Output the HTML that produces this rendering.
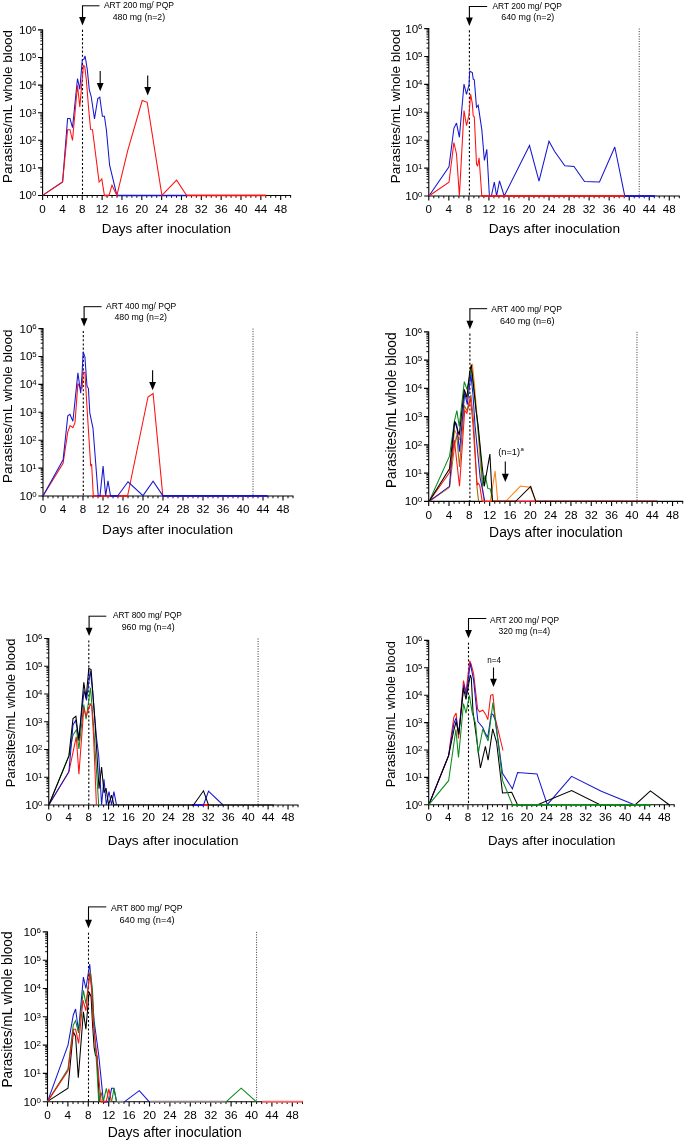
<!DOCTYPE html>
<html><head><meta charset="utf-8"><title>Parasitaemia charts</title><style>html,body{margin:0;padding:0;background:#fff}svg{display:block;will-change:transform;filter:blur(0.35px)}body{font-family:"Liberation Sans",sans-serif}</style></head><body>
<svg width="685" height="1142" viewBox="0 0 685 1142" font-family="'Liberation Sans', sans-serif" fill="#000">
<rect width="685" height="1142" fill="#fff"/>
<line x1="82.50" y1="29.80" x2="82.50" y2="195.50" stroke="#000" stroke-width="1.1" stroke-dasharray="2.1 2.06"/>
<g stroke="#000" stroke-width="1.10" fill="none">
<line x1="42.60" y1="29.40" x2="42.60" y2="196.00"/>
<line x1="42.10" y1="195.50" x2="291.10" y2="195.50"/>
<path d="M42.60 195.50v4.60M62.44 195.50v4.60M82.28 195.50v4.60M102.12 195.50v4.60M121.96 195.50v4.60M141.80 195.50v4.60M161.64 195.50v4.60M181.48 195.50v4.60M201.32 195.50v4.60M221.16 195.50v4.60M241.00 195.50v4.60M260.84 195.50v4.60M280.68 195.50v4.60M42.60 195.50h-4.60M42.60 167.90h-4.60M42.60 140.30h-4.60M42.60 112.70h-4.60M42.60 85.10h-4.60M42.60 57.50h-4.60M42.60 29.90h-4.60"/>
<path stroke-width="0.95" d="M47.56 195.50v2.30M52.52 195.50v2.30M57.48 195.50v2.30M67.40 195.50v2.30M72.36 195.50v2.30M77.32 195.50v2.30M87.24 195.50v2.30M92.20 195.50v2.30M97.16 195.50v2.30M107.08 195.50v2.30M112.04 195.50v2.30M117.00 195.50v2.30M126.92 195.50v2.30M131.88 195.50v2.30M136.84 195.50v2.30M146.76 195.50v2.30M151.72 195.50v2.30M156.68 195.50v2.30M166.60 195.50v2.30M171.56 195.50v2.30M176.52 195.50v2.30M186.44 195.50v2.30M191.40 195.50v2.30M196.36 195.50v2.30M206.28 195.50v2.30M211.24 195.50v2.30M216.20 195.50v2.30M226.12 195.50v2.30M231.08 195.50v2.30M236.04 195.50v2.30M245.96 195.50v2.30M250.92 195.50v2.30M255.88 195.50v2.30M265.80 195.50v2.30M270.76 195.50v2.30M275.72 195.50v2.30M285.64 195.50v2.30M290.60 195.50v2.30M42.60 187.19h-2.30M42.60 182.33h-2.30M42.60 178.88h-2.30M42.60 176.21h-2.30M42.60 174.02h-2.30M42.60 172.18h-2.30M42.60 170.57h-2.30M42.60 169.16h-2.30M42.60 159.59h-2.30M42.60 154.73h-2.30M42.60 151.28h-2.30M42.60 148.61h-2.30M42.60 146.42h-2.30M42.60 144.58h-2.30M42.60 142.97h-2.30M42.60 141.56h-2.30M42.60 131.99h-2.30M42.60 127.13h-2.30M42.60 123.68h-2.30M42.60 121.01h-2.30M42.60 118.82h-2.30M42.60 116.98h-2.30M42.60 115.37h-2.30M42.60 113.96h-2.30M42.60 104.39h-2.30M42.60 99.53h-2.30M42.60 96.08h-2.30M42.60 93.41h-2.30M42.60 91.22h-2.30M42.60 89.38h-2.30M42.60 87.77h-2.30M42.60 86.36h-2.30M42.60 76.79h-2.30M42.60 71.93h-2.30M42.60 68.48h-2.30M42.60 65.81h-2.30M42.60 63.62h-2.30M42.60 61.78h-2.30M42.60 60.17h-2.30M42.60 58.76h-2.30M42.60 49.19h-2.30M42.60 44.33h-2.30M42.60 40.88h-2.30M42.60 38.21h-2.30M42.60 36.02h-2.30M42.60 34.18h-2.30M42.60 32.57h-2.30M42.60 31.16h-2.30"/>
</g>
<text x="42.60" y="212.80" font-size="11.6" text-anchor="middle">0</text>
<text x="62.44" y="212.80" font-size="11.6" text-anchor="middle">4</text>
<text x="82.28" y="212.80" font-size="11.6" text-anchor="middle">8</text>
<text x="102.12" y="212.80" font-size="11.6" text-anchor="middle">12</text>
<text x="121.96" y="212.80" font-size="11.6" text-anchor="middle">16</text>
<text x="141.80" y="212.80" font-size="11.6" text-anchor="middle">20</text>
<text x="161.64" y="212.80" font-size="11.6" text-anchor="middle">24</text>
<text x="181.48" y="212.80" font-size="11.6" text-anchor="middle">28</text>
<text x="201.32" y="212.80" font-size="11.6" text-anchor="middle">32</text>
<text x="221.16" y="212.80" font-size="11.6" text-anchor="middle">36</text>
<text x="241.00" y="212.80" font-size="11.6" text-anchor="middle">40</text>
<text x="260.84" y="212.80" font-size="11.6" text-anchor="middle">44</text>
<text x="280.68" y="212.80" font-size="11.6" text-anchor="middle">48</text>
<text x="32.00" y="199.40" font-size="11.6" text-anchor="end">10</text>
<text x="31.90" y="196.30" font-size="7.8" text-anchor="start">0</text>
<text x="32.00" y="171.80" font-size="11.6" text-anchor="end">10</text>
<text x="31.90" y="168.70" font-size="7.8" text-anchor="start">1</text>
<text x="32.00" y="144.20" font-size="11.6" text-anchor="end">10</text>
<text x="31.90" y="141.10" font-size="7.8" text-anchor="start">2</text>
<text x="32.00" y="116.60" font-size="11.6" text-anchor="end">10</text>
<text x="31.90" y="113.50" font-size="7.8" text-anchor="start">3</text>
<text x="32.00" y="89.00" font-size="11.6" text-anchor="end">10</text>
<text x="31.90" y="85.90" font-size="7.8" text-anchor="start">4</text>
<text x="32.00" y="61.40" font-size="11.6" text-anchor="end">10</text>
<text x="31.90" y="58.30" font-size="7.8" text-anchor="start">5</text>
<text x="32.00" y="33.80" font-size="11.6" text-anchor="end">10</text>
<text x="31.90" y="30.70" font-size="7.8" text-anchor="start">6</text>
<text x="101.70" y="233.20" font-size="13.5" text-anchor="start" textLength="129.3" lengthAdjust="spacingAndGlyphs">Days after inoculation</text>
<text transform="translate(11.80,182.90) rotate(-90)" font-size="13.5" textLength="152.9" lengthAdjust="spacingAndGlyphs">Parasites/mL whole blood</text>
<polyline points="82.00,5.80 99.50,5.80" stroke="#000" stroke-width="1" fill="none"/>
<line x1="82.50" y1="5.80" x2="82.50" y2="18.10" stroke="#000" stroke-width="1.1"/>
<polygon points="79.10,17.10 85.90,17.10 82.50,25.40" fill="#000"/>
<text x="103.90" y="8.40" font-size="8.8" text-anchor="start" textLength="70.1" lengthAdjust="spacingAndGlyphs">ART 200 mg/ PQP</text>
<text x="112.70" y="19.80" font-size="8.8" text-anchor="start" textLength="52.5" lengthAdjust="spacingAndGlyphs">480 mg (n=2)</text>
<line x1="100.20" y1="71.10" x2="100.20" y2="83.90" stroke="#000" stroke-width="1.1"/>
<polygon points="96.80,82.90 103.60,82.90 100.20,91.20" fill="#000"/>
<line x1="147.70" y1="75.50" x2="147.70" y2="88.10" stroke="#000" stroke-width="1.1"/>
<polygon points="144.30,87.10 151.10,87.10 147.70,95.40" fill="#000"/>
<polyline points="42.6,195.4 62.6,181.9 67.6,118.5 70.0,118.5 72.5,127.7 77.5,78.5 79.8,89.3 82.3,59.7 84.0,59.0 85.1,56.0 87.3,69.6 89.3,90.0 91.2,96.5 94.5,118.8 97.8,98.5 99.8,97.2 102.4,116.2 104.4,116.2 106.4,130.0 109.6,165.2 116.9,195.4 187.5,195.4" fill="none" stroke="#1616d2" stroke-width="1.05" stroke-linejoin="miter" stroke-miterlimit="3"/>
<line x1="116.9" y1="195.50" x2="187.5" y2="195.50" stroke="#1616d2" stroke-width="1.7"/>
<polyline points="42.6,195.4 62.6,181.9 67.6,129.7 70.0,129.7 72.5,140.5 77.5,85.3 79.8,107.0 83.4,65.6 84.7,66.3 86.3,79.4 88.6,108.3 90.6,129.4 92.5,129.7 99.1,182.0 101.8,179.0 104.4,195.4 109.0,195.4 112.0,185.2 116.9,195.4 127.7,150.7 142.2,100.5 147.2,102.3 161.9,195.3 176.6,180.2 186.5,195.3 266.0,195.3" fill="none" stroke="#ff1010" stroke-width="1.05" stroke-linejoin="miter" stroke-miterlimit="3"/>
<line x1="104.4" y1="195.50" x2="109.0" y2="195.50" stroke="#ff1010" stroke-width="1.7"/>
<line x1="186.5" y1="195.50" x2="266.0" y2="195.50" stroke="#ff1010" stroke-width="1.7"/>
<line x1="639.22" y1="28.60" x2="639.22" y2="196.00" stroke="#333" stroke-width="1" stroke-dasharray="1 1.5"/>
<line x1="469.40" y1="30.30" x2="469.40" y2="196.00" stroke="#000" stroke-width="1.1" stroke-dasharray="2.1 2.06"/>
<g stroke="#000" stroke-width="1.10" fill="none">
<line x1="428.80" y1="28.10" x2="428.80" y2="196.50"/>
<line x1="428.30" y1="196.00" x2="679.80" y2="196.00"/>
<path d="M428.80 196.00v4.60M448.84 196.00v4.60M468.88 196.00v4.60M488.92 196.00v4.60M508.96 196.00v4.60M529.00 196.00v4.60M549.04 196.00v4.60M569.08 196.00v4.60M589.12 196.00v4.60M609.16 196.00v4.60M629.20 196.00v4.60M649.24 196.00v4.60M669.28 196.00v4.60M428.80 196.00h-4.60M428.80 168.10h-4.60M428.80 140.20h-4.60M428.80 112.30h-4.60M428.80 84.40h-4.60M428.80 56.50h-4.60M428.80 28.60h-4.60"/>
<path stroke-width="0.95" d="M433.81 196.00v2.30M438.82 196.00v2.30M443.83 196.00v2.30M453.85 196.00v2.30M458.86 196.00v2.30M463.87 196.00v2.30M473.89 196.00v2.30M478.90 196.00v2.30M483.91 196.00v2.30M493.93 196.00v2.30M498.94 196.00v2.30M503.95 196.00v2.30M513.97 196.00v2.30M518.98 196.00v2.30M523.99 196.00v2.30M534.01 196.00v2.30M539.02 196.00v2.30M544.03 196.00v2.30M554.05 196.00v2.30M559.06 196.00v2.30M564.07 196.00v2.30M574.09 196.00v2.30M579.10 196.00v2.30M584.11 196.00v2.30M594.13 196.00v2.30M599.14 196.00v2.30M604.15 196.00v2.30M614.17 196.00v2.30M619.18 196.00v2.30M624.19 196.00v2.30M634.21 196.00v2.30M639.22 196.00v2.30M644.23 196.00v2.30M654.25 196.00v2.30M659.26 196.00v2.30M664.27 196.00v2.30M674.29 196.00v2.30M679.30 196.00v2.30M428.80 187.60h-2.30M428.80 182.69h-2.30M428.80 179.20h-2.30M428.80 176.50h-2.30M428.80 174.29h-2.30M428.80 172.42h-2.30M428.80 170.80h-2.30M428.80 169.38h-2.30M428.80 159.70h-2.30M428.80 154.79h-2.30M428.80 151.30h-2.30M428.80 148.60h-2.30M428.80 146.39h-2.30M428.80 144.52h-2.30M428.80 142.90h-2.30M428.80 141.48h-2.30M428.80 131.80h-2.30M428.80 126.89h-2.30M428.80 123.40h-2.30M428.80 120.70h-2.30M428.80 118.49h-2.30M428.80 116.62h-2.30M428.80 115.00h-2.30M428.80 113.58h-2.30M428.80 103.90h-2.30M428.80 98.99h-2.30M428.80 95.50h-2.30M428.80 92.80h-2.30M428.80 90.59h-2.30M428.80 88.72h-2.30M428.80 87.10h-2.30M428.80 85.68h-2.30M428.80 76.00h-2.30M428.80 71.09h-2.30M428.80 67.60h-2.30M428.80 64.90h-2.30M428.80 62.69h-2.30M428.80 60.82h-2.30M428.80 59.20h-2.30M428.80 57.78h-2.30M428.80 48.10h-2.30M428.80 43.19h-2.30M428.80 39.70h-2.30M428.80 37.00h-2.30M428.80 34.79h-2.30M428.80 32.92h-2.30M428.80 31.30h-2.30M428.80 29.88h-2.30"/>
</g>
<text x="428.80" y="213.30" font-size="11.6" text-anchor="middle">0</text>
<text x="448.84" y="213.30" font-size="11.6" text-anchor="middle">4</text>
<text x="468.88" y="213.30" font-size="11.6" text-anchor="middle">8</text>
<text x="488.92" y="213.30" font-size="11.6" text-anchor="middle">12</text>
<text x="508.96" y="213.30" font-size="11.6" text-anchor="middle">16</text>
<text x="529.00" y="213.30" font-size="11.6" text-anchor="middle">20</text>
<text x="549.04" y="213.30" font-size="11.6" text-anchor="middle">24</text>
<text x="569.08" y="213.30" font-size="11.6" text-anchor="middle">28</text>
<text x="589.12" y="213.30" font-size="11.6" text-anchor="middle">32</text>
<text x="609.16" y="213.30" font-size="11.6" text-anchor="middle">36</text>
<text x="629.20" y="213.30" font-size="11.6" text-anchor="middle">40</text>
<text x="649.24" y="213.30" font-size="11.6" text-anchor="middle">44</text>
<text x="669.28" y="213.30" font-size="11.6" text-anchor="middle">48</text>
<text x="418.20" y="199.90" font-size="11.6" text-anchor="end">10</text>
<text x="418.10" y="196.80" font-size="7.8" text-anchor="start">0</text>
<text x="418.20" y="172.00" font-size="11.6" text-anchor="end">10</text>
<text x="418.10" y="168.90" font-size="7.8" text-anchor="start">1</text>
<text x="418.20" y="144.10" font-size="11.6" text-anchor="end">10</text>
<text x="418.10" y="141.00" font-size="7.8" text-anchor="start">2</text>
<text x="418.20" y="116.20" font-size="11.6" text-anchor="end">10</text>
<text x="418.10" y="113.10" font-size="7.8" text-anchor="start">3</text>
<text x="418.20" y="88.30" font-size="11.6" text-anchor="end">10</text>
<text x="418.10" y="85.20" font-size="7.8" text-anchor="start">4</text>
<text x="418.20" y="60.40" font-size="11.6" text-anchor="end">10</text>
<text x="418.10" y="57.30" font-size="7.8" text-anchor="start">5</text>
<text x="418.20" y="32.50" font-size="11.6" text-anchor="end">10</text>
<text x="418.10" y="29.40" font-size="7.8" text-anchor="start">6</text>
<text x="488.70" y="233.20" font-size="13.5" text-anchor="start" textLength="131.3" lengthAdjust="spacingAndGlyphs">Days after inoculation</text>
<text transform="translate(399.50,183.20) rotate(-90)" font-size="13.5" textLength="154.0" lengthAdjust="spacingAndGlyphs">Parasites/mL whole blood</text>
<polyline points="468.90,6.50 487.20,6.50" stroke="#000" stroke-width="1" fill="none"/>
<line x1="469.40" y1="6.50" x2="469.40" y2="18.60" stroke="#000" stroke-width="1.1"/>
<polygon points="466.00,17.60 472.80,17.60 469.40,25.90" fill="#000"/>
<text x="492.40" y="8.80" font-size="8.8" text-anchor="start" textLength="69.6" lengthAdjust="spacingAndGlyphs">ART 200 mg/ PQP</text>
<text x="501.20" y="20.10" font-size="8.8" text-anchor="start" textLength="53.1" lengthAdjust="spacingAndGlyphs">640 mg (n=2)</text>
<polyline points="428.9,196.0 449.0,166.7 453.9,128.3 456.5,123.1 459.4,137.3 464.0,84.0 466.5,94.4 469.0,85.0 469.7,71.2 472.3,72.5 473.2,79.1 474.3,79.7 476.5,107.3 478.2,105.3 481.8,129.6 484.4,160.5 486.8,149.4 489.4,196.0 491.4,196.0 494.3,182.2 496.6,196.0 499.5,180.9 504.2,196.0 529.5,145.5 539.0,181.2 549.0,141.2 554.5,151.2 564.8,165.8 574.0,166.5 584.5,181.5 599.5,182.0 614.8,147.0 624.8,196.2 655.0,196.2" fill="none" stroke="#1616d2" stroke-width="1.05" stroke-linejoin="miter" stroke-miterlimit="3"/>
<line x1="624.8" y1="196.00" x2="655.0" y2="196.00" stroke="#1616d2" stroke-width="1.7"/>
<polyline points="428.9,196.0 449.0,182.2 453.9,142.5 456.5,154.0 459.4,196.0 464.0,110.6 466.5,125.7 469.0,115.2 470.6,94.2 472.3,103.4 473.2,115.8 474.3,116.8 476.5,163.8 477.6,166.2 479.1,157.9 481.8,196.0 625.0,196.0" fill="none" stroke="#ff1010" stroke-width="1.05" stroke-linejoin="miter" stroke-miterlimit="3"/>
<line x1="481.8" y1="196.00" x2="625.0" y2="196.00" stroke="#ff1010" stroke-width="1.7"/>
<line x1="253.00" y1="328.60" x2="253.00" y2="496.00" stroke="#333" stroke-width="1" stroke-dasharray="1 1.5"/>
<line x1="83.30" y1="330.90" x2="83.30" y2="496.00" stroke="#000" stroke-width="1.1" stroke-dasharray="2.1 2.06"/>
<g stroke="#000" stroke-width="1.10" fill="none">
<line x1="43.00" y1="328.10" x2="43.00" y2="496.50"/>
<line x1="42.50" y1="496.00" x2="293.50" y2="496.00"/>
<path d="M43.00 496.00v4.60M63.00 496.00v4.60M83.00 496.00v4.60M103.00 496.00v4.60M123.00 496.00v4.60M143.00 496.00v4.60M163.00 496.00v4.60M183.00 496.00v4.60M203.00 496.00v4.60M223.00 496.00v4.60M243.00 496.00v4.60M263.00 496.00v4.60M283.00 496.00v4.60M43.00 496.00h-4.60M43.00 468.10h-4.60M43.00 440.20h-4.60M43.00 412.30h-4.60M43.00 384.40h-4.60M43.00 356.50h-4.60M43.00 328.60h-4.60"/>
<path stroke-width="0.95" d="M48.00 496.00v2.30M53.00 496.00v2.30M58.00 496.00v2.30M68.00 496.00v2.30M73.00 496.00v2.30M78.00 496.00v2.30M88.00 496.00v2.30M93.00 496.00v2.30M98.00 496.00v2.30M108.00 496.00v2.30M113.00 496.00v2.30M118.00 496.00v2.30M128.00 496.00v2.30M133.00 496.00v2.30M138.00 496.00v2.30M148.00 496.00v2.30M153.00 496.00v2.30M158.00 496.00v2.30M168.00 496.00v2.30M173.00 496.00v2.30M178.00 496.00v2.30M188.00 496.00v2.30M193.00 496.00v2.30M198.00 496.00v2.30M208.00 496.00v2.30M213.00 496.00v2.30M218.00 496.00v2.30M228.00 496.00v2.30M233.00 496.00v2.30M238.00 496.00v2.30M248.00 496.00v2.30M253.00 496.00v2.30M258.00 496.00v2.30M268.00 496.00v2.30M273.00 496.00v2.30M278.00 496.00v2.30M288.00 496.00v2.30M293.00 496.00v2.30M43.00 487.60h-2.30M43.00 482.69h-2.30M43.00 479.20h-2.30M43.00 476.50h-2.30M43.00 474.29h-2.30M43.00 472.42h-2.30M43.00 470.80h-2.30M43.00 469.38h-2.30M43.00 459.70h-2.30M43.00 454.79h-2.30M43.00 451.30h-2.30M43.00 448.60h-2.30M43.00 446.39h-2.30M43.00 444.52h-2.30M43.00 442.90h-2.30M43.00 441.48h-2.30M43.00 431.80h-2.30M43.00 426.89h-2.30M43.00 423.40h-2.30M43.00 420.70h-2.30M43.00 418.49h-2.30M43.00 416.62h-2.30M43.00 415.00h-2.30M43.00 413.58h-2.30M43.00 403.90h-2.30M43.00 398.99h-2.30M43.00 395.50h-2.30M43.00 392.80h-2.30M43.00 390.59h-2.30M43.00 388.72h-2.30M43.00 387.10h-2.30M43.00 385.68h-2.30M43.00 376.00h-2.30M43.00 371.09h-2.30M43.00 367.60h-2.30M43.00 364.90h-2.30M43.00 362.69h-2.30M43.00 360.82h-2.30M43.00 359.20h-2.30M43.00 357.78h-2.30M43.00 348.10h-2.30M43.00 343.19h-2.30M43.00 339.70h-2.30M43.00 337.00h-2.30M43.00 334.79h-2.30M43.00 332.92h-2.30M43.00 331.30h-2.30M43.00 329.88h-2.30"/>
</g>
<text x="43.00" y="513.40" font-size="11.6" text-anchor="middle">0</text>
<text x="63.00" y="513.40" font-size="11.6" text-anchor="middle">4</text>
<text x="83.00" y="513.40" font-size="11.6" text-anchor="middle">8</text>
<text x="103.00" y="513.40" font-size="11.6" text-anchor="middle">12</text>
<text x="123.00" y="513.40" font-size="11.6" text-anchor="middle">16</text>
<text x="143.00" y="513.40" font-size="11.6" text-anchor="middle">20</text>
<text x="163.00" y="513.40" font-size="11.6" text-anchor="middle">24</text>
<text x="183.00" y="513.40" font-size="11.6" text-anchor="middle">28</text>
<text x="203.00" y="513.40" font-size="11.6" text-anchor="middle">32</text>
<text x="223.00" y="513.40" font-size="11.6" text-anchor="middle">36</text>
<text x="243.00" y="513.40" font-size="11.6" text-anchor="middle">40</text>
<text x="263.00" y="513.40" font-size="11.6" text-anchor="middle">44</text>
<text x="283.00" y="513.40" font-size="11.6" text-anchor="middle">48</text>
<text x="32.40" y="499.90" font-size="11.6" text-anchor="end">10</text>
<text x="32.30" y="496.80" font-size="7.8" text-anchor="start">0</text>
<text x="32.40" y="472.00" font-size="11.6" text-anchor="end">10</text>
<text x="32.30" y="468.90" font-size="7.8" text-anchor="start">1</text>
<text x="32.40" y="444.10" font-size="11.6" text-anchor="end">10</text>
<text x="32.30" y="441.00" font-size="7.8" text-anchor="start">2</text>
<text x="32.40" y="416.20" font-size="11.6" text-anchor="end">10</text>
<text x="32.30" y="413.10" font-size="7.8" text-anchor="start">3</text>
<text x="32.40" y="388.30" font-size="11.6" text-anchor="end">10</text>
<text x="32.30" y="385.20" font-size="7.8" text-anchor="start">4</text>
<text x="32.40" y="360.40" font-size="11.6" text-anchor="end">10</text>
<text x="32.30" y="357.30" font-size="7.8" text-anchor="start">5</text>
<text x="32.40" y="332.50" font-size="11.6" text-anchor="end">10</text>
<text x="32.30" y="329.40" font-size="7.8" text-anchor="start">6</text>
<text x="102.10" y="534.00" font-size="13.5" text-anchor="start" textLength="130.9" lengthAdjust="spacingAndGlyphs">Days after inoculation</text>
<text transform="translate(12.00,483.00) rotate(-90)" font-size="13.5" textLength="153.4" lengthAdjust="spacingAndGlyphs">Parasites/mL whole blood</text>
<polyline points="83.60,306.70 101.60,306.70" stroke="#000" stroke-width="1" fill="none"/>
<line x1="84.10" y1="306.70" x2="84.10" y2="319.20" stroke="#000" stroke-width="1.1"/>
<polygon points="80.70,318.20 87.50,318.20 84.10,326.50" fill="#000"/>
<text x="106.00" y="309.00" font-size="8.8" text-anchor="start" textLength="70.3" lengthAdjust="spacingAndGlyphs">ART 400 mg/ PQP</text>
<text x="114.40" y="320.40" font-size="8.8" text-anchor="start" textLength="52.6" lengthAdjust="spacingAndGlyphs">480 mg (n=2)</text>
<line x1="152.60" y1="370.20" x2="152.60" y2="382.90" stroke="#000" stroke-width="1.1"/>
<polygon points="149.20,381.90 156.00,381.90 152.60,390.20" fill="#000"/>
<polyline points="43.1,495.8 63.1,463.3 67.8,431.8 70.1,425.5 72.9,427.6 75.0,422.7 77.9,383.4 80.2,388.3 82.1,388.3 83.2,372.2 84.9,372.5 87.0,407.3 90.7,466.1 91.6,464.0 93.3,495.8 127.6,495.8 148.0,397.0 153.1,393.5 162.8,495.6 267.0,495.6" fill="none" stroke="#ff1010" stroke-width="1.05" stroke-linejoin="miter" stroke-miterlimit="3"/>
<line x1="93.3" y1="496.00" x2="127.6" y2="496.00" stroke="#ff1010" stroke-width="1.7"/>
<line x1="162.8" y1="496.00" x2="267.0" y2="496.00" stroke="#ff1010" stroke-width="1.7"/>
<polyline points="43.1,495.8 63.1,459.8 67.8,415.7 69.9,414.3 72.9,421.3 77.9,372.9 80.7,393.2 82.1,372.9 83.2,351.9 84.9,356.8 87.0,386.2 88.4,388.3 89.8,412.9 93.0,428.3 98.2,495.8 100.0,495.8 103.1,466.1 105.6,495.8 108.0,480.8 110.5,495.8 117.8,495.8 128.0,481.8 143.0,495.6 153.1,481.2 162.8,495.6 267.5,495.6" fill="none" stroke="#1616d2" stroke-width="1.05" stroke-linejoin="miter" stroke-miterlimit="3"/>
<line x1="110.5" y1="496.00" x2="117.8" y2="496.00" stroke="#1616d2" stroke-width="1.7"/>
<line x1="162.8" y1="496.00" x2="267.5" y2="496.00" stroke="#1616d2" stroke-width="1.7"/>
<line x1="636.98" y1="331.90" x2="636.98" y2="501.40" stroke="#333" stroke-width="1" stroke-dasharray="1 1.5"/>
<line x1="469.90" y1="333.60" x2="469.90" y2="501.40" stroke="#000" stroke-width="1.1" stroke-dasharray="2.1 2.06"/>
<g stroke="#000" stroke-width="1.12" fill="none">
<line x1="428.70" y1="331.40" x2="428.70" y2="501.90"/>
<line x1="428.20" y1="501.40" x2="683.20" y2="501.40"/>
<path d="M428.70 501.40v4.69M449.02 501.40v4.69M469.34 501.40v4.69M489.66 501.40v4.69M509.98 501.40v4.69M530.30 501.40v4.69M550.62 501.40v4.69M570.94 501.40v4.69M591.26 501.40v4.69M611.58 501.40v4.69M631.90 501.40v4.69M652.22 501.40v4.69M672.54 501.40v4.69M428.70 501.40h-4.69M428.70 473.15h-4.69M428.70 444.90h-4.69M428.70 416.65h-4.69M428.70 388.40h-4.69M428.70 360.15h-4.69M428.70 331.90h-4.69"/>
<path stroke-width="0.97" d="M433.78 501.40v2.35M438.86 501.40v2.35M443.94 501.40v2.35M454.10 501.40v2.35M459.18 501.40v2.35M464.26 501.40v2.35M474.42 501.40v2.35M479.50 501.40v2.35M484.58 501.40v2.35M494.74 501.40v2.35M499.82 501.40v2.35M504.90 501.40v2.35M515.06 501.40v2.35M520.14 501.40v2.35M525.22 501.40v2.35M535.38 501.40v2.35M540.46 501.40v2.35M545.54 501.40v2.35M555.70 501.40v2.35M560.78 501.40v2.35M565.86 501.40v2.35M576.02 501.40v2.35M581.10 501.40v2.35M586.18 501.40v2.35M596.34 501.40v2.35M601.42 501.40v2.35M606.50 501.40v2.35M616.66 501.40v2.35M621.74 501.40v2.35M626.82 501.40v2.35M636.98 501.40v2.35M642.06 501.40v2.35M647.14 501.40v2.35M657.30 501.40v2.35M662.38 501.40v2.35M667.46 501.40v2.35M677.62 501.40v2.35M682.70 501.40v2.35M428.70 492.90h-2.35M428.70 487.92h-2.35M428.70 484.39h-2.35M428.70 481.65h-2.35M428.70 479.42h-2.35M428.70 477.53h-2.35M428.70 475.89h-2.35M428.70 474.44h-2.35M428.70 464.65h-2.35M428.70 459.67h-2.35M428.70 456.14h-2.35M428.70 453.40h-2.35M428.70 451.17h-2.35M428.70 449.28h-2.35M428.70 447.64h-2.35M428.70 446.19h-2.35M428.70 436.40h-2.35M428.70 431.42h-2.35M428.70 427.89h-2.35M428.70 425.15h-2.35M428.70 422.92h-2.35M428.70 421.03h-2.35M428.70 419.39h-2.35M428.70 417.94h-2.35M428.70 408.15h-2.35M428.70 403.17h-2.35M428.70 399.64h-2.35M428.70 396.90h-2.35M428.70 394.67h-2.35M428.70 392.78h-2.35M428.70 391.14h-2.35M428.70 389.69h-2.35M428.70 379.90h-2.35M428.70 374.92h-2.35M428.70 371.39h-2.35M428.70 368.65h-2.35M428.70 366.42h-2.35M428.70 364.53h-2.35M428.70 362.89h-2.35M428.70 361.44h-2.35M428.70 351.65h-2.35M428.70 346.67h-2.35M428.70 343.14h-2.35M428.70 340.40h-2.35M428.70 338.17h-2.35M428.70 336.28h-2.35M428.70 334.64h-2.35M428.70 333.19h-2.35"/>
</g>
<text x="428.70" y="518.80" font-size="11.8" text-anchor="middle">0</text>
<text x="449.02" y="518.80" font-size="11.8" text-anchor="middle">4</text>
<text x="469.34" y="518.80" font-size="11.8" text-anchor="middle">8</text>
<text x="489.66" y="518.80" font-size="11.8" text-anchor="middle">12</text>
<text x="509.98" y="518.80" font-size="11.8" text-anchor="middle">16</text>
<text x="530.30" y="518.80" font-size="11.8" text-anchor="middle">20</text>
<text x="550.62" y="518.80" font-size="11.8" text-anchor="middle">24</text>
<text x="570.94" y="518.80" font-size="11.8" text-anchor="middle">28</text>
<text x="591.26" y="518.80" font-size="11.8" text-anchor="middle">32</text>
<text x="611.58" y="518.80" font-size="11.8" text-anchor="middle">36</text>
<text x="631.90" y="518.80" font-size="11.8" text-anchor="middle">40</text>
<text x="652.22" y="518.80" font-size="11.8" text-anchor="middle">44</text>
<text x="672.54" y="518.80" font-size="11.8" text-anchor="middle">48</text>
<text x="417.89" y="505.38" font-size="11.8" text-anchor="end">10</text>
<text x="417.79" y="502.22" font-size="8.0" text-anchor="start">0</text>
<text x="417.89" y="477.13" font-size="11.8" text-anchor="end">10</text>
<text x="417.79" y="473.97" font-size="8.0" text-anchor="start">1</text>
<text x="417.89" y="448.88" font-size="11.8" text-anchor="end">10</text>
<text x="417.79" y="445.72" font-size="8.0" text-anchor="start">2</text>
<text x="417.89" y="420.63" font-size="11.8" text-anchor="end">10</text>
<text x="417.79" y="417.47" font-size="8.0" text-anchor="start">3</text>
<text x="417.89" y="392.38" font-size="11.8" text-anchor="end">10</text>
<text x="417.79" y="389.22" font-size="8.0" text-anchor="start">4</text>
<text x="417.89" y="364.13" font-size="11.8" text-anchor="end">10</text>
<text x="417.79" y="360.97" font-size="8.0" text-anchor="start">5</text>
<text x="417.89" y="335.88" font-size="11.8" text-anchor="end">10</text>
<text x="417.79" y="332.72" font-size="8.0" text-anchor="start">6</text>
<text x="489.10" y="537.00" font-size="13.8" text-anchor="start" textLength="133.6" lengthAdjust="spacingAndGlyphs">Days after inoculation</text>
<text transform="translate(396.30,488.00) rotate(-90)" font-size="13.8" textLength="155.5" lengthAdjust="spacingAndGlyphs">Parasites/mL whole blood</text>
<polyline points="469.40,308.70 487.20,308.70" stroke="#000" stroke-width="1" fill="none"/>
<line x1="469.90" y1="308.70" x2="469.90" y2="321.73" stroke="#000" stroke-width="1.1"/>
<polygon points="466.43,320.73 473.37,320.73 469.90,329.20" fill="#000"/>
<text x="491.20" y="311.60" font-size="9.0" text-anchor="start" textLength="70.8" lengthAdjust="spacingAndGlyphs">ART 400 mg/ PQP</text>
<text x="499.90" y="323.90" font-size="9.0" text-anchor="start" textLength="54.7" lengthAdjust="spacingAndGlyphs">640 mg (n=6)</text>
<line x1="505.30" y1="461.60" x2="505.30" y2="474.63" stroke="#000" stroke-width="1.1"/>
<polygon points="501.83,473.63 508.77,473.63 505.30,482.10" fill="#000"/>
<text x="498.30" y="454.90" font-size="9" text-anchor="start" textLength="21.7" lengthAdjust="spacingAndGlyphs">(n=1)</text>
<text x="520.50" y="450.50" font-size="6" text-anchor="start">a</text>
<polyline points="429.2,501.3 449.5,487.3 454.6,445.0 456.7,435.2 459.5,466.9 464.3,405.4 466.9,410.5 470.9,394.8 473.5,420.0 477.1,488.4 478.6,501.3" fill="none" stroke="#9a6a10" stroke-width="1.05" stroke-linejoin="miter" stroke-miterlimit="3"/>
<polyline points="429.2,501.3 449.5,487.3 454.6,430.0 459.5,440.0 464.5,392.0 467.0,400.0 470.0,372.0 472.4,363.8 474.5,385.0 477.0,415.0 479.7,455.7 483.8,501.3 490.3,501.3 495.1,471.0 497.7,501.3 505.7,501.3 520.5,486.1 530.2,487.3 535.8,501.3" fill="none" stroke="#ff8010" stroke-width="1.05" stroke-linejoin="miter" stroke-miterlimit="3"/>
<polyline points="429.2,501.3 449.5,456.2 454.6,420.0 456.9,410.7 459.2,426.5 464.3,381.6 466.9,389.3 471.3,369.6 475.1,400.0 477.6,425.0 480.2,450.0 482.7,486.3 485.2,475.1 487.8,488.4 490.3,488.9 492.9,501.3" fill="none" stroke="#0a8a1a" stroke-width="1.05" stroke-linejoin="miter" stroke-miterlimit="3"/>
<polyline points="429.2,501.3 449.5,486.3 454.6,421.4 456.7,424.5 459.5,451.6 464.7,393.0 467.3,404.6 470.9,374.3 473.0,395.0 475.0,425.0 480.2,478.1 484.8,501.3" fill="none" stroke="#1616d2" stroke-width="1.05" stroke-linejoin="miter" stroke-miterlimit="3"/>
<polyline points="429.2,501.3 449.5,472.5 454.4,440.3 459.5,486.3 464.7,410.5 466.9,413.4 470.5,398.1 473.0,425.0 477.1,485.3 478.1,483.2 479.7,485.3 482.2,501.3 657.5,501.3" fill="none" stroke="#ff1010" stroke-width="1.05" stroke-linejoin="miter" stroke-miterlimit="3"/>
<polyline points="429.2,501.3 449.5,468.9 454.6,421.4 457.0,428.0 459.2,435.2 464.3,389.3 466.9,397.3 469.7,372.0 471.3,364.5 473.5,385.0 476.0,410.0 478.1,425.0 481.0,455.0 484.3,486.3 489.9,454.1 492.4,501.3 515.7,501.3 530.7,486.5 535.8,501.3 657.5,501.3" fill="none" stroke="#000000" stroke-width="1.05" stroke-linejoin="miter" stroke-miterlimit="3"/>
<polyline points="516.5,501.4 535.5,501.4" fill="none" stroke="#e0103a" stroke-width="1.05" stroke-linejoin="miter" stroke-miterlimit="3"/>
<line x1="258.12" y1="638.50" x2="258.12" y2="805.00" stroke="#333" stroke-width="1" stroke-dasharray="1 1.5"/>
<line x1="88.80" y1="640.40" x2="88.80" y2="805.00" stroke="#000" stroke-width="1.1" stroke-dasharray="2.1 2.06"/>
<g stroke="#000" stroke-width="1.10" fill="none">
<line x1="48.75" y1="638.00" x2="48.75" y2="805.50"/>
<line x1="48.25" y1="805.00" x2="298.50" y2="805.00"/>
<path d="M48.75 805.00v4.60M68.69 805.00v4.60M88.63 805.00v4.60M108.57 805.00v4.60M128.51 805.00v4.60M148.45 805.00v4.60M168.39 805.00v4.60M188.33 805.00v4.60M208.27 805.00v4.60M228.21 805.00v4.60M248.15 805.00v4.60M268.09 805.00v4.60M288.03 805.00v4.60M48.75 805.00h-4.60M48.75 777.25h-4.60M48.75 749.50h-4.60M48.75 721.75h-4.60M48.75 694.00h-4.60M48.75 666.25h-4.60M48.75 638.50h-4.60"/>
<path stroke-width="0.95" d="M53.73 805.00v2.30M58.72 805.00v2.30M63.70 805.00v2.30M73.67 805.00v2.30M78.66 805.00v2.30M83.65 805.00v2.30M93.62 805.00v2.30M98.60 805.00v2.30M103.59 805.00v2.30M113.56 805.00v2.30M118.54 805.00v2.30M123.53 805.00v2.30M133.50 805.00v2.30M138.48 805.00v2.30M143.47 805.00v2.30M153.44 805.00v2.30M158.42 805.00v2.30M163.41 805.00v2.30M173.38 805.00v2.30M178.36 805.00v2.30M183.34 805.00v2.30M193.31 805.00v2.30M198.30 805.00v2.30M203.28 805.00v2.30M213.26 805.00v2.30M218.24 805.00v2.30M223.23 805.00v2.30M233.20 805.00v2.30M238.18 805.00v2.30M243.17 805.00v2.30M253.14 805.00v2.30M258.12 805.00v2.30M263.11 805.00v2.30M273.08 805.00v2.30M278.06 805.00v2.30M283.05 805.00v2.30M293.01 805.00v2.30M298.00 805.00v2.30M48.75 796.65h-2.30M48.75 791.76h-2.30M48.75 788.29h-2.30M48.75 785.60h-2.30M48.75 783.41h-2.30M48.75 781.55h-2.30M48.75 779.94h-2.30M48.75 778.52h-2.30M48.75 768.90h-2.30M48.75 764.01h-2.30M48.75 760.54h-2.30M48.75 757.85h-2.30M48.75 755.66h-2.30M48.75 753.80h-2.30M48.75 752.19h-2.30M48.75 750.77h-2.30M48.75 741.15h-2.30M48.75 736.26h-2.30M48.75 732.79h-2.30M48.75 730.10h-2.30M48.75 727.91h-2.30M48.75 726.05h-2.30M48.75 724.44h-2.30M48.75 723.02h-2.30M48.75 713.40h-2.30M48.75 708.51h-2.30M48.75 705.04h-2.30M48.75 702.35h-2.30M48.75 700.16h-2.30M48.75 698.30h-2.30M48.75 696.69h-2.30M48.75 695.27h-2.30M48.75 685.65h-2.30M48.75 680.76h-2.30M48.75 677.29h-2.30M48.75 674.60h-2.30M48.75 672.41h-2.30M48.75 670.55h-2.30M48.75 668.94h-2.30M48.75 667.52h-2.30M48.75 657.90h-2.30M48.75 653.01h-2.30M48.75 649.54h-2.30M48.75 646.85h-2.30M48.75 644.66h-2.30M48.75 642.80h-2.30M48.75 641.19h-2.30M48.75 639.77h-2.30"/>
</g>
<text x="48.75" y="821.30" font-size="11.6" text-anchor="middle">0</text>
<text x="68.69" y="821.30" font-size="11.6" text-anchor="middle">4</text>
<text x="88.63" y="821.30" font-size="11.6" text-anchor="middle">8</text>
<text x="108.57" y="821.30" font-size="11.6" text-anchor="middle">12</text>
<text x="128.51" y="821.30" font-size="11.6" text-anchor="middle">16</text>
<text x="148.45" y="821.30" font-size="11.6" text-anchor="middle">20</text>
<text x="168.39" y="821.30" font-size="11.6" text-anchor="middle">24</text>
<text x="188.33" y="821.30" font-size="11.6" text-anchor="middle">28</text>
<text x="208.27" y="821.30" font-size="11.6" text-anchor="middle">32</text>
<text x="228.21" y="821.30" font-size="11.6" text-anchor="middle">36</text>
<text x="248.15" y="821.30" font-size="11.6" text-anchor="middle">40</text>
<text x="268.09" y="821.30" font-size="11.6" text-anchor="middle">44</text>
<text x="288.03" y="821.30" font-size="11.6" text-anchor="middle">48</text>
<text x="38.15" y="808.90" font-size="11.6" text-anchor="end">10</text>
<text x="38.05" y="805.80" font-size="7.8" text-anchor="start">0</text>
<text x="38.15" y="781.15" font-size="11.6" text-anchor="end">10</text>
<text x="38.05" y="778.05" font-size="7.8" text-anchor="start">1</text>
<text x="38.15" y="753.40" font-size="11.6" text-anchor="end">10</text>
<text x="38.05" y="750.30" font-size="7.8" text-anchor="start">2</text>
<text x="38.15" y="725.65" font-size="11.6" text-anchor="end">10</text>
<text x="38.05" y="722.55" font-size="7.8" text-anchor="start">3</text>
<text x="38.15" y="697.90" font-size="11.6" text-anchor="end">10</text>
<text x="38.05" y="694.80" font-size="7.8" text-anchor="start">4</text>
<text x="38.15" y="670.15" font-size="11.6" text-anchor="end">10</text>
<text x="38.05" y="667.05" font-size="7.8" text-anchor="start">5</text>
<text x="38.15" y="642.40" font-size="11.6" text-anchor="end">10</text>
<text x="38.05" y="639.30" font-size="7.8" text-anchor="start">6</text>
<text x="107.70" y="845.20" font-size="13.5" text-anchor="start" textLength="130.8" lengthAdjust="spacingAndGlyphs">Days after inoculation</text>
<text transform="translate(14.60,787.30) rotate(-90)" font-size="13.5" textLength="148.7" lengthAdjust="spacingAndGlyphs">Parasites/mL whole blood</text>
<polyline points="88.60,616.20 106.30,616.20" stroke="#000" stroke-width="1" fill="none"/>
<line x1="89.10" y1="616.20" x2="89.10" y2="628.70" stroke="#000" stroke-width="1.1"/>
<polygon points="85.70,627.70 92.50,627.70 89.10,636.00" fill="#000"/>
<text x="112.90" y="618.40" font-size="8.8" text-anchor="start" textLength="69.0" lengthAdjust="spacingAndGlyphs">ART 800 mg/ PQP</text>
<text x="121.70" y="630.10" font-size="8.8" text-anchor="start" textLength="52.9" lengthAdjust="spacingAndGlyphs">960 mg (n=4)</text>
<polyline points="48.9,804.8 68.9,755.9 73.0,735.0 76.5,729.7 78.9,748.9 83.8,704.6 86.1,719.2 90.5,687.7 93.5,725.0 97.0,778.7 98.7,804.8" fill="none" stroke="#0a8a1a" stroke-width="1.05" stroke-linejoin="miter" stroke-miterlimit="3"/>
<polyline points="48.9,804.8 68.9,771.7 76.3,736.7 78.9,774.1 83.8,708.1 86.1,716.3 90.3,704.1 91.7,706.4 93.5,735.0 96.4,804.8" fill="none" stroke="#ff1010" stroke-width="1.05" stroke-linejoin="miter" stroke-miterlimit="3"/>
<polyline points="203.0,805.0 209.0,805.0" fill="none" stroke="#ff1010" stroke-width="1.05" stroke-linejoin="miter" stroke-miterlimit="3"/>
<line x1="203.0" y1="805.00" x2="209.0" y2="805.00" stroke="#ff1010" stroke-width="1.7"/>
<polyline points="48.9,804.8 68.9,771.7 73.0,725.0 75.6,720.4 78.9,738.0 84.1,690.6 86.5,700.5 90.3,670.8 92.5,690.0 96.4,736.7 98.7,755.9 101.6,804.8 104.0,779.3 106.3,804.8 109.0,791.6 111.6,804.8 113.9,791.6 116.5,804.8" fill="none" stroke="#1616d2" stroke-width="1.05" stroke-linejoin="miter" stroke-miterlimit="3"/>
<polyline points="192.0,805.0 203.5,805.0 208.5,791.2 223.0,805.0" fill="none" stroke="#1616d2" stroke-width="1.05" stroke-linejoin="miter" stroke-miterlimit="3"/>
<line x1="192.0" y1="805.00" x2="203.5" y2="805.00" stroke="#1616d2" stroke-width="1.7"/>
<polyline points="48.9,804.8 68.9,755.9 73.0,718.6 75.9,716.3 78.9,740.8 83.8,682.4 86.1,698.2 88.8,668.4 91.1,669.6 95.2,725.0 99.0,788.7 101.6,767.0 104.0,792.7 106.0,788.1 108.6,804.8 111.6,795.1 113.9,804.8 193.5,805.0 203.5,790.8 208.5,805.0 273.8,805.0" fill="none" stroke="#000000" stroke-width="1.05" stroke-linejoin="miter" stroke-miterlimit="3"/>
<line x1="468.50" y1="642.70" x2="468.50" y2="804.80" stroke="#000" stroke-width="1.1" stroke-dasharray="2.1 2.06"/>
<g stroke="#000" stroke-width="1.10" fill="none">
<line x1="428.70" y1="639.90" x2="428.70" y2="805.30"/>
<line x1="428.20" y1="804.80" x2="674.70" y2="804.80"/>
<path d="M428.70 804.80v4.60M448.34 804.80v4.60M467.98 804.80v4.60M487.62 804.80v4.60M507.26 804.80v4.60M526.90 804.80v4.60M546.54 804.80v4.60M566.18 804.80v4.60M585.82 804.80v4.60M605.46 804.80v4.60M625.10 804.80v4.60M644.74 804.80v4.60M664.38 804.80v4.60M428.70 804.80h-4.60M428.70 777.40h-4.60M428.70 750.00h-4.60M428.70 722.60h-4.60M428.70 695.20h-4.60M428.70 667.80h-4.60M428.70 640.40h-4.60"/>
<path stroke-width="0.95" d="M433.61 804.80v2.30M438.52 804.80v2.30M443.43 804.80v2.30M453.25 804.80v2.30M458.16 804.80v2.30M463.07 804.80v2.30M472.89 804.80v2.30M477.80 804.80v2.30M482.71 804.80v2.30M492.53 804.80v2.30M497.44 804.80v2.30M502.35 804.80v2.30M512.17 804.80v2.30M517.08 804.80v2.30M521.99 804.80v2.30M531.81 804.80v2.30M536.72 804.80v2.30M541.63 804.80v2.30M551.45 804.80v2.30M556.36 804.80v2.30M561.27 804.80v2.30M571.09 804.80v2.30M576.00 804.80v2.30M580.91 804.80v2.30M590.73 804.80v2.30M595.64 804.80v2.30M600.55 804.80v2.30M610.37 804.80v2.30M615.28 804.80v2.30M620.19 804.80v2.30M630.01 804.80v2.30M634.92 804.80v2.30M639.83 804.80v2.30M649.65 804.80v2.30M654.56 804.80v2.30M659.47 804.80v2.30M669.29 804.80v2.30M674.20 804.80v2.30M428.70 796.55h-2.30M428.70 791.73h-2.30M428.70 788.30h-2.30M428.70 785.65h-2.30M428.70 783.48h-2.30M428.70 781.64h-2.30M428.70 780.06h-2.30M428.70 778.65h-2.30M428.70 769.15h-2.30M428.70 764.33h-2.30M428.70 760.90h-2.30M428.70 758.25h-2.30M428.70 756.08h-2.30M428.70 754.24h-2.30M428.70 752.66h-2.30M428.70 751.25h-2.30M428.70 741.75h-2.30M428.70 736.93h-2.30M428.70 733.50h-2.30M428.70 730.85h-2.30M428.70 728.68h-2.30M428.70 726.84h-2.30M428.70 725.26h-2.30M428.70 723.85h-2.30M428.70 714.35h-2.30M428.70 709.53h-2.30M428.70 706.10h-2.30M428.70 703.45h-2.30M428.70 701.28h-2.30M428.70 699.44h-2.30M428.70 697.86h-2.30M428.70 696.45h-2.30M428.70 686.95h-2.30M428.70 682.13h-2.30M428.70 678.70h-2.30M428.70 676.05h-2.30M428.70 673.88h-2.30M428.70 672.04h-2.30M428.70 670.46h-2.30M428.70 669.05h-2.30M428.70 659.55h-2.30M428.70 654.73h-2.30M428.70 651.30h-2.30M428.70 648.65h-2.30M428.70 646.48h-2.30M428.70 644.64h-2.30M428.70 643.06h-2.30M428.70 641.65h-2.30"/>
</g>
<text x="428.70" y="821.30" font-size="11.6" text-anchor="middle">0</text>
<text x="448.34" y="821.30" font-size="11.6" text-anchor="middle">4</text>
<text x="467.98" y="821.30" font-size="11.6" text-anchor="middle">8</text>
<text x="487.62" y="821.30" font-size="11.6" text-anchor="middle">12</text>
<text x="507.26" y="821.30" font-size="11.6" text-anchor="middle">16</text>
<text x="526.90" y="821.30" font-size="11.6" text-anchor="middle">20</text>
<text x="546.54" y="821.30" font-size="11.6" text-anchor="middle">24</text>
<text x="566.18" y="821.30" font-size="11.6" text-anchor="middle">28</text>
<text x="585.82" y="821.30" font-size="11.6" text-anchor="middle">32</text>
<text x="605.46" y="821.30" font-size="11.6" text-anchor="middle">36</text>
<text x="625.10" y="821.30" font-size="11.6" text-anchor="middle">40</text>
<text x="644.74" y="821.30" font-size="11.6" text-anchor="middle">44</text>
<text x="664.38" y="821.30" font-size="11.6" text-anchor="middle">48</text>
<text x="418.10" y="808.70" font-size="11.6" text-anchor="end">10</text>
<text x="418.00" y="805.60" font-size="7.8" text-anchor="start">0</text>
<text x="418.10" y="781.30" font-size="11.6" text-anchor="end">10</text>
<text x="418.00" y="778.20" font-size="7.8" text-anchor="start">1</text>
<text x="418.10" y="753.90" font-size="11.6" text-anchor="end">10</text>
<text x="418.00" y="750.80" font-size="7.8" text-anchor="start">2</text>
<text x="418.10" y="726.50" font-size="11.6" text-anchor="end">10</text>
<text x="418.00" y="723.40" font-size="7.8" text-anchor="start">3</text>
<text x="418.10" y="699.10" font-size="11.6" text-anchor="end">10</text>
<text x="418.00" y="696.00" font-size="7.8" text-anchor="start">4</text>
<text x="418.10" y="671.70" font-size="11.6" text-anchor="end">10</text>
<text x="418.00" y="668.60" font-size="7.8" text-anchor="start">5</text>
<text x="418.10" y="644.30" font-size="11.6" text-anchor="end">10</text>
<text x="418.00" y="641.20" font-size="7.8" text-anchor="start">6</text>
<text x="488.00" y="845.20" font-size="13.5" text-anchor="start" textLength="127.5" lengthAdjust="spacingAndGlyphs">Days after inoculation</text>
<text transform="translate(395.20,787.30) rotate(-90)" font-size="13.5" textLength="146.2" lengthAdjust="spacingAndGlyphs">Parasites/mL whole blood</text>
<polyline points="468.00,618.50 486.30,618.50" stroke="#000" stroke-width="1" fill="none"/>
<line x1="468.50" y1="618.50" x2="468.50" y2="631.00" stroke="#000" stroke-width="1.1"/>
<polygon points="465.10,630.00 471.90,630.00 468.50,638.30" fill="#000"/>
<text x="490.10" y="622.50" font-size="8.8" text-anchor="start" textLength="68.9" lengthAdjust="spacingAndGlyphs">ART 200 mg/ PQP</text>
<text x="498.50" y="633.90" font-size="8.8" text-anchor="start" textLength="51.7" lengthAdjust="spacingAndGlyphs">320 mg (n=4)</text>
<line x1="493.50" y1="667.50" x2="493.50" y2="679.70" stroke="#000" stroke-width="1.1"/>
<polygon points="490.10,678.70 496.90,678.70 493.50,687.00" fill="#000"/>
<text x="487.25" y="662.50" font-size="8.8" text-anchor="start" textLength="13.8" lengthAdjust="spacingAndGlyphs">n=4</text>
<polyline points="428.9,804.6 448.6,755.7 450.6,740.0 453.9,717.0 456.1,713.1 458.5,738.4 463.5,680.5 466.0,692.0 469.7,660.8 471.2,664.5 473.6,673.7 477.6,709.1 479.5,711.8 482.8,710.2 485.7,714.4 487.8,719.6 490.7,695.3 492.9,694.4 495.3,718.3 503.0,750.5" fill="none" stroke="#ff1010" stroke-width="1.05" stroke-linejoin="miter" stroke-miterlimit="3"/>
<polyline points="428.9,804.6 448.6,755.7 453.9,723.5 456.1,718.0 458.8,733.0 463.8,684.5 466.2,695.5 470.3,663.1 473.6,680.2 475.6,700.0 477.9,721.6 482.8,727.5 485.7,734.1 487.8,737.1 491.3,713.7 492.9,714.4 495.3,720.0 502.5,773.2 512.4,788.8 517.6,772.5 537.0,773.9 547.3,804.7 571.6,776.3 601.3,791.2 635.0,805.0" fill="none" stroke="#1616d2" stroke-width="1.05" stroke-linejoin="miter" stroke-miterlimit="3"/>
<polyline points="428.9,804.6 448.6,755.7 453.9,730.0 456.1,721.5 458.8,734.5 463.5,688.1 466.0,699.3 470.3,675.0 471.3,678.0 473.0,711.8 477.6,746.3 480.4,768.0 485.4,746.3 488.1,760.1 492.7,728.9 496.6,742.3 502.5,792.9 511.7,792.3 517.6,805.0 537.0,805.0 571.6,790.6 600.5,805.0 635.0,805.0 650.4,790.9 669.5,805.0" fill="none" stroke="#000000" stroke-width="1.05" stroke-linejoin="miter" stroke-miterlimit="3"/>
<polyline points="428.9,804.6 448.6,780.7 455.9,729.5 458.5,757.4 463.5,703.6 466.0,713.1 469.4,695.3 472.3,713.1 475.6,723.6 478.2,753.5 482.8,729.0 488.1,741.0 492.9,702.6 496.0,726.2 498.6,746.3 502.5,780.4 512.4,804.6 650.5,805.0" fill="none" stroke="#0a8a1a" stroke-width="1.05" stroke-linejoin="miter" stroke-miterlimit="3"/>
<line x1="512.4" y1="804.80" x2="650.5" y2="804.80" stroke="#0a8a1a" stroke-width="1.7"/>
<line x1="256.60" y1="931.90" x2="256.60" y2="1101.70" stroke="#333" stroke-width="1" stroke-dasharray="1 1.5"/>
<line x1="88.50" y1="932.70" x2="88.50" y2="1101.70" stroke="#000" stroke-width="1.1" stroke-dasharray="2.1 2.06"/>
<g stroke="#000" stroke-width="1.12" fill="none">
<line x1="47.50" y1="931.40" x2="47.50" y2="1102.20"/>
<line x1="47.00" y1="1101.70" x2="303.00" y2="1101.70"/>
<path d="M47.50 1101.70v4.69M67.90 1101.70v4.69M88.30 1101.70v4.69M108.70 1101.70v4.69M129.10 1101.70v4.69M149.50 1101.70v4.69M169.90 1101.70v4.69M190.30 1101.70v4.69M210.70 1101.70v4.69M231.10 1101.70v4.69M251.50 1101.70v4.69M271.90 1101.70v4.69M292.30 1101.70v4.69M47.50 1101.70h-4.69M47.50 1073.40h-4.69M47.50 1045.10h-4.69M47.50 1016.80h-4.69M47.50 988.50h-4.69M47.50 960.20h-4.69M47.50 931.90h-4.69"/>
<path stroke-width="0.97" d="M52.60 1101.70v2.35M57.70 1101.70v2.35M62.80 1101.70v2.35M73.00 1101.70v2.35M78.10 1101.70v2.35M83.20 1101.70v2.35M93.40 1101.70v2.35M98.50 1101.70v2.35M103.60 1101.70v2.35M113.80 1101.70v2.35M118.90 1101.70v2.35M124.00 1101.70v2.35M134.20 1101.70v2.35M139.30 1101.70v2.35M144.40 1101.70v2.35M154.60 1101.70v2.35M159.70 1101.70v2.35M164.80 1101.70v2.35M175.00 1101.70v2.35M180.10 1101.70v2.35M185.20 1101.70v2.35M195.40 1101.70v2.35M200.50 1101.70v2.35M205.60 1101.70v2.35M215.80 1101.70v2.35M220.90 1101.70v2.35M226.00 1101.70v2.35M236.20 1101.70v2.35M241.30 1101.70v2.35M246.40 1101.70v2.35M256.60 1101.70v2.35M261.70 1101.70v2.35M266.80 1101.70v2.35M277.00 1101.70v2.35M282.10 1101.70v2.35M287.20 1101.70v2.35M297.40 1101.70v2.35M302.50 1101.70v2.35M47.50 1093.18h-2.35M47.50 1088.20h-2.35M47.50 1084.66h-2.35M47.50 1081.92h-2.35M47.50 1079.68h-2.35M47.50 1077.78h-2.35M47.50 1076.14h-2.35M47.50 1074.69h-2.35M47.50 1064.88h-2.35M47.50 1059.90h-2.35M47.50 1056.36h-2.35M47.50 1053.62h-2.35M47.50 1051.38h-2.35M47.50 1049.48h-2.35M47.50 1047.84h-2.35M47.50 1046.39h-2.35M47.50 1036.58h-2.35M47.50 1031.60h-2.35M47.50 1028.06h-2.35M47.50 1025.32h-2.35M47.50 1023.08h-2.35M47.50 1021.18h-2.35M47.50 1019.54h-2.35M47.50 1018.09h-2.35M47.50 1008.28h-2.35M47.50 1003.30h-2.35M47.50 999.76h-2.35M47.50 997.02h-2.35M47.50 994.78h-2.35M47.50 992.88h-2.35M47.50 991.24h-2.35M47.50 989.79h-2.35M47.50 979.98h-2.35M47.50 975.00h-2.35M47.50 971.46h-2.35M47.50 968.72h-2.35M47.50 966.48h-2.35M47.50 964.58h-2.35M47.50 962.94h-2.35M47.50 961.49h-2.35M47.50 951.68h-2.35M47.50 946.70h-2.35M47.50 943.16h-2.35M47.50 940.42h-2.35M47.50 938.18h-2.35M47.50 936.28h-2.35M47.50 934.64h-2.35M47.50 933.19h-2.35"/>
</g>
<text x="47.50" y="1118.70" font-size="11.8" text-anchor="middle">0</text>
<text x="67.90" y="1118.70" font-size="11.8" text-anchor="middle">4</text>
<text x="88.30" y="1118.70" font-size="11.8" text-anchor="middle">8</text>
<text x="108.70" y="1118.70" font-size="11.8" text-anchor="middle">12</text>
<text x="129.10" y="1118.70" font-size="11.8" text-anchor="middle">16</text>
<text x="149.50" y="1118.70" font-size="11.8" text-anchor="middle">20</text>
<text x="169.90" y="1118.70" font-size="11.8" text-anchor="middle">24</text>
<text x="190.30" y="1118.70" font-size="11.8" text-anchor="middle">28</text>
<text x="210.70" y="1118.70" font-size="11.8" text-anchor="middle">32</text>
<text x="231.10" y="1118.70" font-size="11.8" text-anchor="middle">36</text>
<text x="251.50" y="1118.70" font-size="11.8" text-anchor="middle">40</text>
<text x="271.90" y="1118.70" font-size="11.8" text-anchor="middle">44</text>
<text x="292.30" y="1118.70" font-size="11.8" text-anchor="middle">48</text>
<text x="36.69" y="1105.68" font-size="11.8" text-anchor="end">10</text>
<text x="36.59" y="1102.52" font-size="8.0" text-anchor="start">0</text>
<text x="36.69" y="1077.38" font-size="11.8" text-anchor="end">10</text>
<text x="36.59" y="1074.22" font-size="8.0" text-anchor="start">1</text>
<text x="36.69" y="1049.08" font-size="11.8" text-anchor="end">10</text>
<text x="36.59" y="1045.92" font-size="8.0" text-anchor="start">2</text>
<text x="36.69" y="1020.78" font-size="11.8" text-anchor="end">10</text>
<text x="36.59" y="1017.62" font-size="8.0" text-anchor="start">3</text>
<text x="36.69" y="992.48" font-size="11.8" text-anchor="end">10</text>
<text x="36.59" y="989.32" font-size="8.0" text-anchor="start">4</text>
<text x="36.69" y="964.18" font-size="11.8" text-anchor="end">10</text>
<text x="36.59" y="961.02" font-size="8.0" text-anchor="start">5</text>
<text x="36.69" y="935.88" font-size="11.8" text-anchor="end">10</text>
<text x="36.59" y="932.72" font-size="8.0" text-anchor="start">6</text>
<text x="107.70" y="1137.20" font-size="13.8" text-anchor="start" textLength="134.1" lengthAdjust="spacingAndGlyphs">Days after inoculation</text>
<text transform="translate(12.20,1087.50) rotate(-90)" font-size="13.8" textLength="156.0" lengthAdjust="spacingAndGlyphs">Parasites/mL whole blood</text>
<polyline points="88.00,906.90 106.30,906.90" stroke="#000" stroke-width="1" fill="none"/>
<line x1="88.50" y1="906.90" x2="88.50" y2="920.83" stroke="#000" stroke-width="1.1"/>
<polygon points="85.03,919.83 91.97,919.83 88.50,928.30" fill="#000"/>
<text x="111.00" y="910.80" font-size="9.0" text-anchor="start" textLength="71.5" lengthAdjust="spacingAndGlyphs">ART 800 mg/ PQP</text>
<text x="119.40" y="922.70" font-size="9.0" text-anchor="start" textLength="55.2" lengthAdjust="spacingAndGlyphs">640 mg (n=4)</text>
<polyline points="262.0,1101.7 302.5,1101.7" fill="none" stroke="#ff6a6a" stroke-width="1.05" stroke-linejoin="miter" stroke-miterlimit="3"/>
<line x1="262.0" y1="1101.70" x2="302.5" y2="1101.70" stroke="#ff6a6a" stroke-width="1.7"/>
<polyline points="47.6,1101.4 68.0,1088.3 73.3,1031.7 75.6,1036.4 78.3,1077.8 83.4,1011.9 85.9,1029.3 89.1,992.0 91.1,996.7 92.3,1020.0 94.1,1047.4 95.5,1055.6 97.0,1056.2 99.3,1101.4" fill="none" stroke="#000000" stroke-width="1.05" stroke-linejoin="miter" stroke-miterlimit="3"/>
<polyline points="47.6,1101.4 68.0,1045.1 73.3,1015.0 75.6,1009.0 78.5,1031.0 83.4,977.1 85.9,988.5 89.7,964.0 91.5,985.0 94.0,1020.0 98.7,1055.0 103.4,1101.4 109.0,1101.4 111.6,1088.3 113.9,1088.3 116.5,1101.4" fill="none" stroke="#1616d2" stroke-width="1.05" stroke-linejoin="miter" stroke-miterlimit="3"/>
<line x1="103.4" y1="1101.70" x2="109.0" y2="1101.70" stroke="#1616d2" stroke-width="1.7"/>
<polyline points="124.3,1101.9 139.3,1090.6 149.3,1101.9" fill="none" stroke="#1616d2" stroke-width="1.05" stroke-linejoin="miter" stroke-miterlimit="3"/>
<polyline points="47.6,1101.4 68.0,1069.1 73.3,1025.0 75.6,1020.7 78.5,1033.0 83.4,990.3 85.9,1003.7 90.3,970.8 92.5,990.0 94.0,1025.0 97.0,1070.0 98.7,1101.4 101.0,1092.4 103.4,1101.4 106.3,1088.3 109.0,1101.4 111.6,1101.4 114.1,1088.3 116.5,1101.4" fill="none" stroke="#0a8a1a" stroke-width="1.05" stroke-linejoin="miter" stroke-miterlimit="3"/>
<polyline points="226.0,1101.9 241.2,1088.1 256.4,1101.9" fill="none" stroke="#0a8a1a" stroke-width="1.05" stroke-linejoin="miter" stroke-miterlimit="3"/>
<polyline points="47.6,1101.4 68.0,1070.8 73.6,1029.3 75.6,1029.3 78.6,1043.4 83.0,1000.2 85.9,1010.7 89.7,972.8 91.7,990.0 92.9,1020.0 97.0,1056.2 99.9,1090.0 101.0,1101.4 106.3,1101.4 108.9,1088.9 111.3,1101.4" fill="none" stroke="#ff1010" stroke-width="1.05" stroke-linejoin="miter" stroke-miterlimit="3"/>
<line x1="101.0" y1="1101.70" x2="106.3" y2="1101.70" stroke="#ff1010" stroke-width="1.7"/>
<polyline points="117.0,1101.7 123.5,1101.7" fill="none" stroke="#8a8484" stroke-width="1.05" stroke-linejoin="miter" stroke-miterlimit="3"/>
<line x1="117.0" y1="1101.70" x2="123.5" y2="1101.70" stroke="#8a8484" stroke-width="1.7"/>
<polyline points="150.0,1101.7 225.5,1101.7" fill="none" stroke="#8a8484" stroke-width="1.05" stroke-linejoin="miter" stroke-miterlimit="3"/>
<line x1="150.0" y1="1101.70" x2="225.5" y2="1101.70" stroke="#8a8484" stroke-width="1.7"/>
</svg>
</body></html>
